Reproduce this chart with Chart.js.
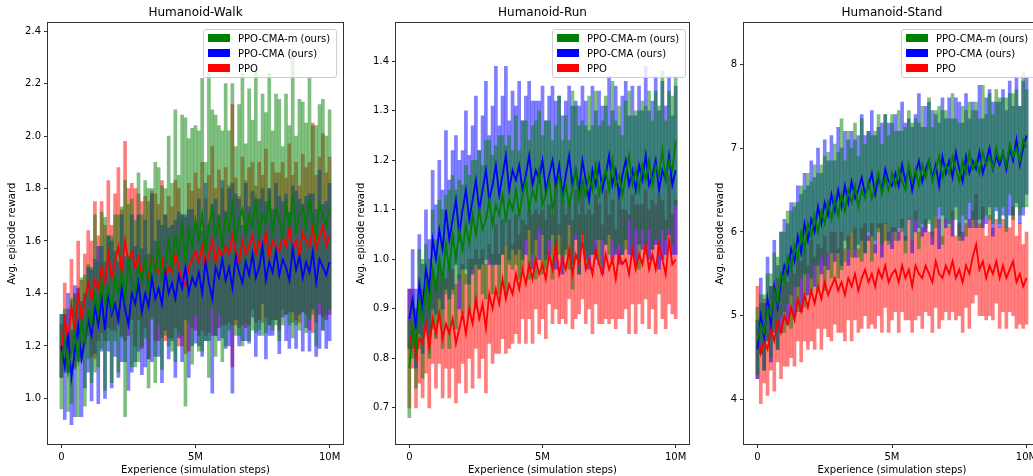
<!DOCTYPE html>
<html>
<head>
<meta charset="utf-8">
<script src="https://cdn.jsdelivr.net/npm/chart.js@4.4.1/dist/chart.umd.min.js"></script>
<style>
  body { margin: 0; background: #fff; }
  #page { position: relative; width: 1033px; height: 476px; overflow: hidden; font-family: 'DejaVu Sans', sans-serif; }
  .panel { position: absolute; top: 0; }
  .legend {
    position: absolute; top: 29px; width: 134px; height: 49px;
    background: rgba(255,255,255,0.8); border: 1px solid #cccccc; border-radius: 3px;
    box-sizing: border-box; font-size: 10px; color: #000;
  }
  .legend .row { position: absolute; left: 4px; height: 12px; line-height: 12px; white-space: nowrap; }
  .legend .patch { display: inline-block; width: 22px; height: 8px; vertical-align: middle; margin-right: 8px; margin-top: -2px; }
</style>
</head>
<body>
<div id="page">
  <div class="panel" style="left:0px"><canvas id="walkChart" width="345" height="476"></canvas></div>
  <div class="panel" style="left:345px"><canvas id="runChart" width="345" height="476"></canvas></div>
  <div class="panel" style="left:690px"><canvas id="standChart" width="352" height="476"></canvas></div>
  <div class="legend" id="walkLegend" style="left:203px"></div>
  <div class="legend" id="runLegend" style="left:552px"></div>
  <div class="legend" id="standLegend" style="left:901px"></div>
</div>
<script>
// 学習ステップ（単位：M）
const stepsM = Array.from({ length: 81 }, (_, i) => i * 0.125);
const xTickValues = [0, 5, 10];
const xTickLabels = ['0', '5M', '10M'];

const seriesLabels = ['PPO-CMA-m (ours)', 'PPO-CMA (ours)', 'PPO'];
const seriesColors = ['0,128,0', '0,0,255', '255,0,0'];

// Humanoid-Walk
const walkYTicks = [1.0, 1.2, 1.4, 1.6, 1.8, 2.0, 2.2, 2.4];
const walkYLabels = ['1.0', '1.2', '1.4', '1.6', '1.8', '2.0', '2.2', '2.4'];
const walkCmaMMean = [
  1.14, 1.22, 1.10, 1.18, 1.25, 1.15, 1.30, 1.22, 1.33,
  1.28, 1.40, 1.32, 1.45, 1.36, 1.42, 1.34, 1.46,
  1.40, 1.48, 1.38, 1.52, 1.44, 1.40, 1.50, 1.45,
  1.53, 1.42, 1.55, 1.48, 1.58, 1.46, 1.52, 1.60,
  1.50, 1.62, 1.55, 1.66, 1.52, 1.64, 1.58, 1.68,
  1.60, 1.70, 1.56, 1.66, 1.72, 1.62, 1.68, 1.58,
  1.70, 1.64, 1.74, 1.60, 1.68, 1.72, 1.63, 1.70,
  1.66, 1.75, 1.62, 1.70, 1.67, 1.76, 1.64, 1.72,
  1.68, 1.62, 1.74, 1.66, 1.78, 1.64, 1.70, 1.73,
  1.65, 1.76, 1.68, 1.62, 1.74, 1.70, 1.66, 1.72
];
const walkCmaMSpread = [
  0.18, 0.12, 0.15, 0.20, 0.14, 0.22, 0.16, 0.25, 0.18,
  0.22, 0.30, 0.20, 0.26, 0.33, 0.20, 0.28, 0.24,
  0.30, 0.25, 0.45, 0.22, 0.32, 0.28, 0.36, 0.25,
  0.30, 0.38, 0.25, 0.42, 0.30, 0.35, 0.28, 0.40,
  0.32, 0.48, 0.30, 0.42, 0.55, 0.35, 0.45, 0.36,
  0.42, 0.52, 0.34, 0.58, 0.38, 0.46, 0.36, 0.44,
  0.50, 0.38, 0.46, 0.36, 0.44, 0.52, 0.34, 0.48,
  0.40, 0.50, 0.36, 0.46, 0.42, 0.48, 0.38, 0.44,
  0.46, 0.34, 0.42, 0.38, 0.55, 0.36, 0.44, 0.40,
  0.40, 0.46, 0.36, 0.42, 0.38, 0.44, 0.34, 0.38
];
const walkCmaMean = [
  1.20, 1.12, 1.25, 1.08, 1.18, 1.28, 1.15, 1.22, 1.30,
  1.24, 1.35, 1.28, 1.38, 1.26, 1.40, 1.32, 1.36,
  1.30, 1.42, 1.34, 1.28, 1.40, 1.36, 1.44, 1.33,
  1.40, 1.35, 1.46, 1.38, 1.42, 1.36, 1.48, 1.40,
  1.44, 1.38, 1.47, 1.42, 1.50, 1.40, 1.46, 1.43,
  1.48, 1.40, 1.52, 1.44, 1.38, 1.50, 1.46, 1.53,
  1.45, 1.50, 1.42, 1.54, 1.48, 1.44, 1.52, 1.47,
  1.55, 1.46, 1.50, 1.58, 1.45, 1.52, 1.48, 1.56,
  1.47, 1.53, 1.50, 1.45, 1.57, 1.49, 1.54, 1.46,
  1.52, 1.48, 1.56, 1.44, 1.53, 1.50, 1.47, 1.52
];
const walkCmaSpread = [
  0.12, 0.20, 0.15, 0.18, 0.25, 0.14, 0.22, 0.18, 0.20,
  0.25, 0.18, 0.30, 0.20, 0.26, 0.22, 0.28, 0.20,
  0.22, 0.28, 0.20, 0.25, 0.30, 0.22, 0.26, 0.24,
  0.28, 0.20, 0.32, 0.22, 0.26, 0.30, 0.22, 0.25,
  0.22, 0.30, 0.24, 0.28, 0.20, 0.32, 0.26, 0.22,
  0.28, 0.24, 0.30, 0.22, 0.36, 0.26, 0.24, 0.30,
  0.26, 0.30, 0.40, 0.24, 0.28, 0.22, 0.30, 0.26,
  0.24, 0.30, 0.26, 0.22, 0.30, 0.28, 0.24, 0.26,
  0.30, 0.22, 0.28, 0.26, 0.24, 0.30, 0.22, 0.28,
  0.25, 0.30, 0.22, 0.28, 0.34, 0.24, 0.28, 0.30
];
const walkPpoMean = [
  1.18, 1.30, 1.22, 1.35, 1.26, 1.40, 1.30, 1.38, 1.44,
  1.38, 1.45, 1.42, 1.50, 1.44, 1.55, 1.46, 1.52,
  1.58, 1.48, 1.60, 1.52, 1.56, 1.50, 1.54, 1.47,
  1.52, 1.45, 1.55, 1.50, 1.48, 1.53, 1.46, 1.50,
  1.48, 1.55, 1.50, 1.45, 1.43, 1.50, 1.53, 1.56,
  1.52, 1.58, 1.50, 1.55, 1.60, 1.52, 1.57, 1.54,
  1.58, 1.55, 1.62, 1.56, 1.52, 1.60, 1.55, 1.58,
  1.62, 1.55, 1.60, 1.57, 1.63, 1.54, 1.60, 1.58,
  1.56, 1.62, 1.58, 1.65, 1.57, 1.60, 1.55, 1.63,
  1.60, 1.58, 1.65, 1.57, 1.62, 1.66, 1.58, 1.62
];
const walkPpoSpread = [
  0.10, 0.14, 0.12, 0.18, 0.14, 0.20, 0.15, 0.17, 0.20,
  0.22, 0.30, 0.20, 0.25, 0.22, 0.28, 0.20, 0.26,
  0.30, 0.24, 0.38, 0.28, 0.26, 0.30, 0.24, 0.28,
  0.25, 0.30, 0.24, 0.28, 0.26, 0.30, 0.24, 0.27,
  0.25, 0.28, 0.30, 0.25, 0.26, 0.32, 0.26, 0.30,
  0.28, 0.32, 0.26, 0.30, 0.36, 0.28, 0.30, 0.26,
  0.30, 0.26, 0.50, 0.28, 0.25, 0.32, 0.28, 0.30,
  0.28, 0.26, 0.30, 0.28, 0.32, 0.26, 0.30, 0.28,
  0.30, 0.28, 0.26, 0.32, 0.28, 0.30, 0.26, 0.30,
  0.28, 0.32, 0.40, 0.28, 0.30, 0.35, 0.28, 0.30
];

// Humanoid-Run
const runYTicks = [0.7, 0.8, 0.9, 1.0, 1.1, 1.2, 1.3, 1.4];
const runYLabels = ['0.7', '0.8', '0.9', '1.0', '1.1', '1.2', '1.3', '1.4'];
const runCmaMMean = [
  0.78, 0.86, 0.82, 0.92, 0.88, 0.95, 0.90, 0.98, 0.94,
  1.00, 0.96, 1.03, 0.98, 1.05, 1.00, 1.06, 1.02,
  1.07, 1.03, 1.09, 1.05, 1.10, 1.06, 1.08, 1.12,
  1.07, 1.11, 1.09, 1.13, 1.08, 1.12, 1.10, 1.14,
  1.09, 1.13, 1.16, 1.10, 1.14, 1.12, 1.18, 1.11,
  1.13, 1.16, 1.10, 1.14, 1.17, 1.12, 1.15, 1.11,
  1.14, 1.18, 1.12, 1.16, 1.13, 1.17, 1.14, 1.19,
  1.13, 1.16, 1.18, 1.14, 1.20, 1.15, 1.17, 1.13,
  1.17, 1.21, 1.15, 1.18, 1.14, 1.19, 1.16, 1.20,
  1.15, 1.19, 1.17, 1.22, 1.16, 1.20, 1.18, 1.24
];
const runCmaMSpread = [
  0.10, 0.06, 0.08, 0.10, 0.12, 0.08, 0.10, 0.12, 0.10,
  0.12, 0.14, 0.10, 0.16, 0.12, 0.14, 0.10, 0.13,
  0.12, 0.14, 0.11, 0.15, 0.12, 0.13, 0.16, 0.12,
  0.14, 0.12, 0.16, 0.12, 0.15, 0.13, 0.12, 0.15,
  0.13, 0.15, 0.12, 0.14, 0.13, 0.16, 0.12, 0.14,
  0.15, 0.12, 0.14, 0.13, 0.16, 0.12, 0.14, 0.13,
  0.20, 0.13, 0.15, 0.12, 0.14, 0.16, 0.13, 0.15,
  0.14, 0.12, 0.15, 0.13, 0.16, 0.13, 0.14, 0.12,
  0.15, 0.13, 0.14, 0.12, 0.16, 0.13, 0.15, 0.14,
  0.13, 0.15, 0.14, 0.16, 0.12, 0.14, 0.15, 0.13
];
const runCmaMean = [
  0.88, 0.92, 0.86, 0.95, 0.90, 0.98, 0.94, 1.04, 1.00,
  1.06, 1.02, 1.10, 1.04, 1.08, 1.12, 1.05, 1.10,
  1.14, 1.08, 1.12, 1.16, 1.10, 1.14, 1.18, 1.12,
  1.15, 1.19, 1.13, 1.17, 1.21, 1.14, 1.18, 1.16,
  1.19, 1.14, 1.17, 1.21, 1.15, 1.18, 1.16, 1.20,
  1.14, 1.17, 1.20, 1.15, 1.19, 1.13, 1.17, 1.21,
  1.15, 1.18, 1.14, 1.20, 1.16, 1.12, 1.18, 1.15,
  1.19, 1.14, 1.17, 1.21, 1.15, 1.18, 1.13, 1.17,
  1.20, 1.15, 1.18, 1.14, 1.19, 1.16, 1.21, 1.15,
  1.17, 1.20, 1.14, 1.18, 1.16, 1.21, 1.15, 1.18
];
const runCmaSpread = [
  0.06, 0.10, 0.08, 0.10, 0.09, 0.12, 0.10, 0.14, 0.11,
  0.14, 0.12, 0.16, 0.12, 0.14, 0.13, 0.15, 0.12,
  0.16, 0.13, 0.15, 0.17, 0.12, 0.15, 0.18, 0.13,
  0.16, 0.20, 0.14, 0.16, 0.18, 0.14, 0.16, 0.15,
  0.17, 0.14, 0.16, 0.15, 0.17, 0.14, 0.16, 0.15,
  0.14, 0.16, 0.15, 0.17, 0.14, 0.16, 0.15, 0.14,
  0.16, 0.14, 0.17, 0.15, 0.16, 0.14, 0.17, 0.15,
  0.15, 0.17, 0.14, 0.16, 0.15, 0.17, 0.14, 0.16,
  0.16, 0.14, 0.17, 0.15, 0.16, 0.14, 0.18, 0.15,
  0.15, 0.17, 0.16, 0.18, 0.15, 0.16, 0.14, 0.17
];
const runPpoMean = [
  0.82, 0.86, 0.80, 0.84, 0.83, 0.87, 0.82, 0.88, 0.85,
  0.89, 0.84, 0.87, 0.85, 0.88, 0.83, 0.86, 0.89,
  0.85, 0.90, 0.87, 0.92, 0.88, 0.91, 0.86, 0.93,
  0.90, 0.94, 0.91, 0.96, 0.92, 0.95, 0.93, 0.97,
  0.94, 0.98, 0.95, 0.99, 0.96, 1.00, 0.97, 0.99,
  0.96, 1.01, 0.98, 1.03, 0.97, 1.00, 0.98, 1.02,
  0.97, 1.01, 0.99, 1.04, 0.98, 1.00, 0.97, 1.02,
  0.99, 0.97, 1.01, 0.98, 1.00, 0.96, 1.01, 0.99,
  1.00, 0.97, 1.02, 0.98, 1.01, 0.99, 1.03, 0.98,
  1.01, 0.98, 1.03, 1.00, 0.97, 1.04, 0.99, 1.00
];
const runPpoSpread = [
  0.12, 0.08, 0.10, 0.09, 0.11, 0.10, 0.12, 0.09, 0.11,
  0.10, 0.12, 0.09, 0.13, 0.10, 0.12, 0.11, 0.10,
  0.12, 0.10, 0.13, 0.10, 0.12, 0.11, 0.13, 0.10,
  0.11, 0.13, 0.10, 0.12, 0.11, 0.13, 0.10, 0.12,
  0.11, 0.10, 0.12, 0.11, 0.13, 0.10, 0.12, 0.11,
  0.12, 0.10, 0.11, 0.13, 0.10, 0.12, 0.11, 0.10,
  0.11, 0.13, 0.10, 0.12, 0.11, 0.10, 0.12, 0.11,
  0.12, 0.10, 0.13, 0.11, 0.12, 0.10, 0.13, 0.11,
  0.10, 0.12, 0.11, 0.13, 0.10, 0.12, 0.11, 0.12,
  0.11, 0.13, 0.10, 0.12, 0.11, 0.13, 0.10, 0.12
];

// Humanoid-Stand
const standYTicks = [4, 5, 6, 7, 8];
const standYLabels = ['4', '5', '6', '7', '8'];
const standCmaMMean = [
  4.70, 4.90, 4.80, 5.10, 5.00, 5.30, 5.15, 5.50, 5.40,
  5.70, 5.55, 5.85, 5.70, 6.00, 5.80, 6.10, 5.95,
  6.20, 6.00, 6.25, 6.10, 6.35, 6.15, 6.40, 6.20,
  6.45, 6.25, 6.50, 6.35, 6.55, 6.30, 6.50, 6.40,
  6.60, 6.40, 6.55, 6.70, 6.45, 6.65, 6.50, 6.70,
  6.55, 6.75, 6.60, 6.50, 6.80, 6.60, 6.75, 6.55,
  6.80, 6.65, 6.85, 6.60, 6.75, 6.90, 6.65, 6.80,
  6.70, 6.90, 6.75, 6.60, 6.85, 6.70, 6.95, 6.75,
  6.85, 6.70, 6.95, 6.80, 6.90, 6.75, 7.00, 6.85,
  6.95, 6.80, 7.05, 6.90, 7.00, 6.85, 7.10, 7.00
];
const standCmaMSpread = [
  0.40, 0.35, 0.45, 0.40, 0.50, 0.45, 0.55, 0.50, 0.60,
  0.55, 0.70, 0.50, 0.65, 0.55, 0.70, 0.60, 0.65,
  0.60, 0.70, 0.55, 0.80, 0.60, 0.70, 0.65, 0.75,
  0.90, 0.60, 0.70, 0.65, 0.75, 0.60, 0.85, 0.65,
  0.60, 0.75, 0.65, 0.70, 0.60, 0.75, 0.65, 0.70,
  0.65, 0.70, 0.60, 0.75, 0.65, 0.70, 0.60, 0.75,
  0.70, 0.60, 0.75, 0.65, 0.70, 0.60, 0.80, 0.65,
  0.65, 0.75, 0.60, 0.70, 0.65, 0.75, 0.60, 0.70,
  0.70, 0.65, 0.80, 0.60, 0.75, 0.65, 0.70, 0.75,
  0.65, 0.80, 0.60, 0.75, 0.70, 0.65, 0.80, 0.70
];
const standCmaMean = [
  4.60, 5.00, 4.75, 5.20, 4.90, 5.35, 5.10, 5.40, 5.60,
  5.50, 5.80, 5.65, 5.95, 5.75, 6.10, 5.90, 6.15,
  6.00, 6.30, 6.10, 6.35, 6.20, 6.45, 6.25, 6.50,
  6.30, 6.55, 6.35, 6.60, 6.40, 6.50, 6.65, 6.45,
  6.55, 6.70, 6.45, 6.65, 6.50, 6.75, 6.60, 6.55,
  6.70, 6.55, 6.80, 6.60, 6.75, 6.50, 6.70, 6.85,
  6.60, 6.75, 6.85, 6.65, 6.80, 6.55, 6.90, 6.70,
  6.85, 6.65, 6.95, 6.75, 6.60, 6.90, 6.70, 6.85,
  6.75, 6.95, 6.70, 6.85, 7.00, 6.75, 6.90, 6.80,
  6.95, 6.75, 7.00, 6.85, 7.10, 6.80, 7.00, 7.15
];
const standCmaSpread = [
  0.35, 0.45, 0.40, 0.50, 0.45, 0.55, 0.50, 0.60, 0.55,
  0.60, 0.55, 0.65, 0.60, 0.70, 0.60, 0.65, 0.70,
  0.65, 0.70, 0.60, 0.75, 0.65, 0.70, 0.60, 0.75,
  0.70, 0.65, 0.75, 0.60, 0.70, 0.65, 0.75, 0.70,
  0.65, 0.75, 0.70, 0.60, 0.80, 0.65, 0.70, 0.75,
  0.70, 0.65, 0.75, 0.70, 0.60, 0.75, 0.70, 0.80,
  0.65, 0.75, 0.70, 0.80, 0.60, 0.75, 0.70, 0.65,
  0.75, 0.70, 0.65, 0.80, 0.70, 0.75, 0.65, 0.70,
  0.70, 0.80, 0.65, 0.75, 0.70, 0.80, 0.65, 0.75,
  0.75, 0.70, 0.80, 0.65, 0.75, 0.70, 0.80, 0.70
];
const standPpoMean = [
  4.80, 4.55, 4.70, 4.60, 4.85, 4.70, 4.95, 4.80, 5.00,
  4.90, 5.10, 4.95, 5.20, 5.05, 5.25, 5.10, 5.30,
  5.15, 5.35, 5.20, 5.40, 5.25, 5.35, 5.45, 5.30,
  5.40, 5.25, 5.45, 5.35, 5.50, 5.30, 5.45, 5.55,
  5.40, 5.50, 5.35, 5.55, 5.45, 5.60, 5.40, 5.50,
  5.55, 5.40, 5.60, 5.45, 5.55, 5.35, 5.60, 5.50,
  5.45, 5.60, 5.50, 5.40, 5.65, 5.50, 5.45, 5.60,
  5.50, 5.65, 5.45, 5.55, 5.40, 5.60, 5.50, 5.70,
  5.85, 5.55, 5.65, 5.45, 5.60, 5.50, 5.65, 5.45,
  5.60, 5.45, 5.55, 5.65, 5.40, 5.50, 5.35, 5.45
];
const standPpoSpread = [
  0.55, 0.60, 0.50, 0.55, 0.50, 0.60, 0.50, 0.55, 0.60,
  0.50, 0.60, 0.55, 0.50, 0.60, 0.55, 0.50, 0.60,
  0.55, 0.50, 0.60, 0.55, 0.50, 0.65, 0.55, 0.50,
  0.60, 0.55, 0.50, 0.65, 0.55, 0.50, 0.60, 0.55,
  0.55, 0.60, 0.50, 0.55, 0.65, 0.50, 0.60, 0.55,
  0.50, 0.60, 0.55, 0.50, 0.60, 0.55, 0.65, 0.50,
  0.60, 0.55, 0.50, 0.60, 0.55, 0.65, 0.50, 0.55,
  0.55, 0.60, 0.50, 0.55, 0.60, 0.50, 0.65, 0.55,
  0.60, 0.55, 0.65, 0.50, 0.60, 0.55, 0.50, 0.60,
  0.55, 0.60, 0.50, 0.65, 0.55, 0.60, 0.50, 0.55
];

const FONT = "'DejaVu Sans', sans-serif";

// 枠線（matplotlib風の四辺）
const framePlugin = {
  id: 'frame',
  afterDraw(chart) {
    const { ctx, chartArea } = chart;
    ctx.save();
    ctx.strokeStyle = '#333';
    ctx.lineWidth = 1;
    ctx.strokeRect(Math.round(chartArea.left) - 0.5, Math.round(chartArea.top) - 0.5,
      Math.round(chartArea.right - chartArea.left) + 1, Math.round(chartArea.bottom - chartArea.top) + 1);
    ctx.restore();
  }
};

// 分散帯（縦棒）と平均線のデータセットを作る
// 帯は PPO が一番奥・PPO-CMA-m が手前、平均線は帯の上に描く
function buildDatasets(means, spreads) {
  const bands = [];
  const lines = [];
  means.forEach((mean, k) => {
    const spread = spreads[k];
    bands.push({
      type: 'bar',
      label: seriesLabels[k] + ' band',
      data: stepsM.map((x, i) => ({ x: x, y: [mean[i] - spread[i], mean[i] + spread[i]] })),
      backgroundColor: `rgba(${seriesColors[k]},0.5)`,
      borderWidth: 0,
      barThickness: 3,
      grouped: false,
      order: 3 + k
    });
    lines.push({
      type: 'line',
      label: seriesLabels[k],
      data: stepsM.map((x, i) => ({ x: x, y: mean[i] })),
      borderColor: `rgb(${seriesColors[k]})`,
      borderWidth: 1.8,
      pointRadius: 0,
      tension: 0,
      fill: false,
      order: k
    });
  });
  return bands.concat(lines);
}

// パネルを描画
function renderPanel(canvasId, opts) {
  const ctx = document.getElementById(canvasId).getContext('2d');
  new Chart(ctx, {
    type: 'line',
    data: { datasets: buildDatasets(opts.means, opts.spreads) },
    plugins: [framePlugin],
    options: {
      responsive: false,
      animation: false,
      layout: { padding: { left: 0, right: opts.padRight, top: 0, bottom: 0 } },
      plugins: {
        legend: { display: false },
        tooltip: { enabled: false },
        title: {
          display: true,
          text: opts.title,
          fullSize: false,
          color: '#000',
          font: { family: FONT, size: 12, weight: 'normal' },
          padding: { top: 5.5, bottom: 3.4 }
        }
      },
      scales: {
        x: {
          type: 'linear',
          min: -0.5,
          max: 10.5,
          offset: false,
          afterBuildTicks: scale => { scale.ticks = xTickValues.map(v => ({ value: v })); },
          afterFit: scale => { scale.height = 32; },
          ticks: {
            autoSkip: false, maxRotation: 0, padding: 3, color: '#000',
            font: { family: FONT, size: 10 },
            callback: (value, index) => xTickLabels[index]
          },
          grid: { display: true, offset: false, drawOnChartArea: false, drawTicks: true, tickLength: 4, tickColor: '#333' },
          border: { display: false },
          title: {
            display: true, text: 'Experience (simulation steps)', color: '#000',
            font: { family: FONT, size: 10 }, padding: { top: 0, bottom: 0 }
          }
        },
        y: {
          min: opts.yMin,
          max: opts.yMax,
          afterBuildTicks: scale => { scale.ticks = opts.yTicks.map(v => ({ value: v })); },
          afterFit: scale => { scale.width = opts.yWidth; },
          ticks: {
            autoSkip: false, padding: 3, color: '#000',
            font: { family: FONT, size: 10 },
            callback: (value, index) => opts.yLabels[index]
          },
          grid: { display: true, offset: false, drawOnChartArea: false, drawTicks: true, tickLength: 4, tickColor: '#333' },
          border: { display: false },
          title: {
            display: true, text: 'Avg. episode reward', color: '#000',
            font: { family: FONT, size: 10 }, padding: { top: opts.yTitlePad, bottom: 0 }
          }
        }
      }
    }
  });
}

// 凡例（グラフ内右上）
function renderLegend(id) {
  const box = document.getElementById(id);
  seriesLabels.forEach((label, k) => {
    const row = document.createElement('div');
    row.className = 'row';
    row.style.top = (3 + k * 15) + 'px';
    row.innerHTML = `<span class="patch" style="background: rgb(${seriesColors[k]})"></span>${label}`;
    box.appendChild(row);
  });
}

renderPanel('walkChart', {
  title: 'Humanoid-Walk',
  means: [walkCmaMMean, walkCmaMean, walkPpoMean],
  spreads: [walkCmaMSpread, walkCmaSpread, walkPpoSpread],
  yMin: 0.826, yMax: 2.43, yTicks: walkYTicks, yLabels: walkYLabels,
  yWidth: 48, yTitlePad: 6.7, padRight: 2
});
renderPanel('runChart', {
  title: 'Humanoid-Run',
  means: [runCmaMMean, runCmaMean, runPpoMean],
  spreads: [runCmaMSpread, runCmaSpread, runPpoSpread],
  yMin: 0.627, yMax: 1.477, yTicks: runYTicks, yLabels: runYLabels,
  yWidth: 51, yTitlePad: 10, padRight: 1
});
renderPanel('standChart', {
  title: 'Humanoid-Stand',
  means: [standCmaMMean, standCmaMean, standPpoMean],
  spreads: [standCmaMSpread, standCmaSpread, standPpoSpread],
  yMin: 3.47, yMax: 8.49, yTicks: standYTicks, yLabels: standYLabels,
  yWidth: 54, yTitlePad: 24, padRight: 2
});
renderLegend('walkLegend');
renderLegend('runLegend');
renderLegend('standLegend');
</script>
</body>
</html>
